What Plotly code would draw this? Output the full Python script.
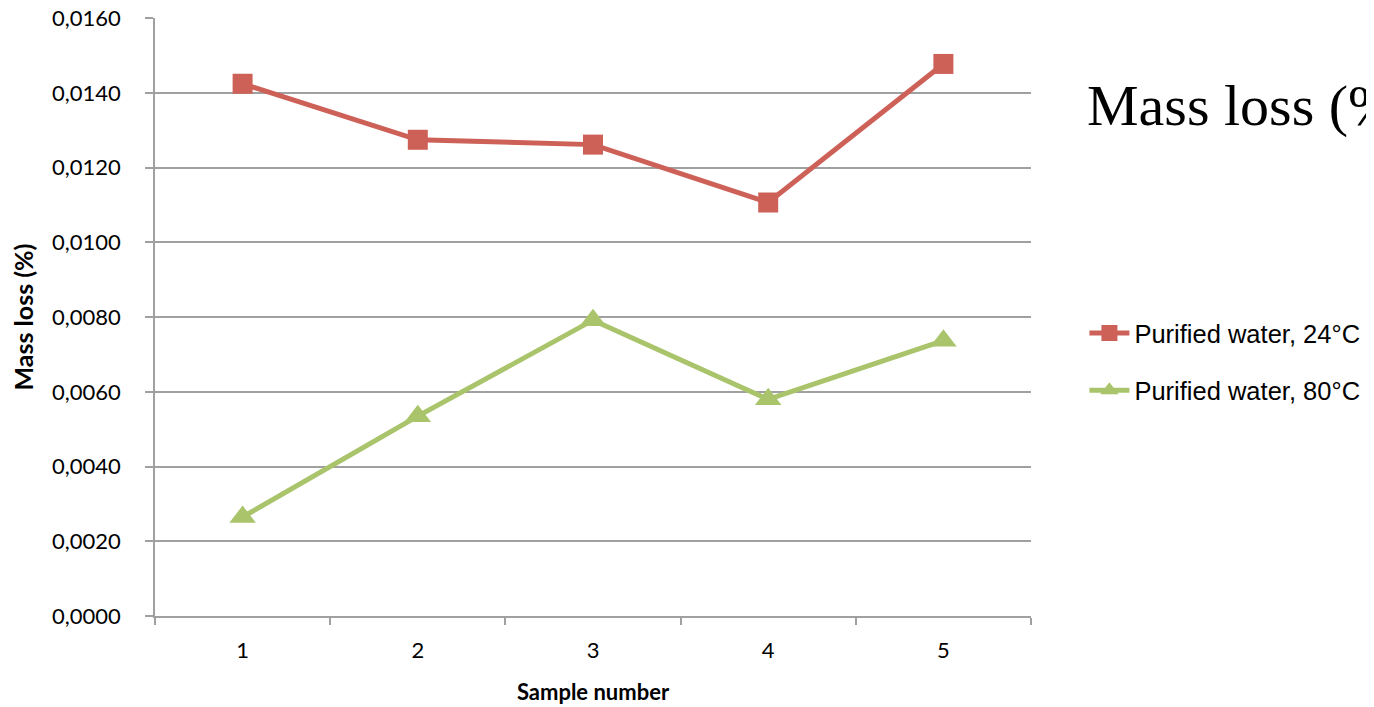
import plotly.graph_objects as go

samples = ["1", "2", "3", "4", "5"]
water_24 = [0.01425, 0.01275, 0.01262, 0.01107, 0.01478]
water_80 = [0.00265, 0.00535, 0.00792, 0.00580, 0.00737]
y_ticks = [0, 0.002, 0.004, 0.006, 0.008, 0.010, 0.012, 0.014, 0.016]

RED = "#CD6158"
GREEN = "#A9C46A"
GRID = "#A0A0A0"
TICKFONT = dict(family="Lato, Carlito, sans-serif", size=22, color="#000000")

fig = go.Figure()
fig.add_trace(go.Scatter(
    x=samples, y=water_24, mode="lines+markers", name="Purified water, 24°C",
    line=dict(color=RED, width=5),
    marker=dict(symbol="square", size=20, color=RED),
    legendgroup="a",
))
fig.add_trace(go.Scatter(
    x=samples, y=water_80, mode="lines+markers", name="Purified water, 80°C",
    line=dict(color=GREEN, width=5),
    marker=dict(symbol="triangle-up", size=23, color=GREEN),
    legendgroup="b",
))

# page body has an 8px margin, so the figure is offset by 8px
fig.update_layout(
    width=1366, height=699,
    margin=dict(l=147, r=343, t=10, b=91, autoexpand=False),
    paper_bgcolor="white", plot_bgcolor="white",
    separators=",.",
    showlegend=True,
    legend=dict(
        xref="container", yref="container",
        x=0.788, y=0.4936, xanchor="left", yanchor="middle",
        font=dict(family="Liberation Sans, Arial, sans-serif", size=25.5, color="#000000"),
        tracegroupgap=21, itemwidth=40, borderwidth=0,
        bgcolor="rgba(0,0,0,0)",
    ),
    xaxis=dict(
        type="category", tickson="boundaries", ticks="outside", ticklen=7,
        tickcolor=GRID, tickwidth=1.5,
        showline=True, linecolor=GRID, linewidth=1.5,
        showgrid=False, tickfont=TICKFONT, ticklabelstandoff=14,
        automargin=False,
        title=dict(text="<b>Sample number</b>",
                   font=dict(family="Lato, Carlito, sans-serif", size=22, color="#000000"),
                   standoff=22),
        range=[-0.5, 4.5],
    ),
    yaxis=dict(
        range=[0, 0.01601], tickvals=y_ticks, tickformat=".4f",
        ticks="outside", ticklen=8, tickcolor=GRID, tickwidth=1.5,
        showline=True, linecolor=GRID, linewidth=1.5,
        showgrid=True, gridcolor=GRID, gridwidth=1.5,
        tickfont=TICKFONT, ticklabelstandoff=20, ticklabeloverflow="allow",
        zeroline=False, automargin=False,
        title=dict(text="<b>Mass loss (%)</b>",
                   font=dict(family="Lato, Carlito, sans-serif", size=25, color="#000000"),
                   standoff=12),
    ),
)

fig.add_annotation(
    text="Mass loss (%)", xref="paper", yref="paper",
    x=(1077 - 147) / 876, y=0.853, xanchor="left", yanchor="middle", showarrow=False,
    font=dict(family="Liberation Serif, Times New Roman, serif", size=58, color="#000000"),
)

fig.write_html("out.html")
